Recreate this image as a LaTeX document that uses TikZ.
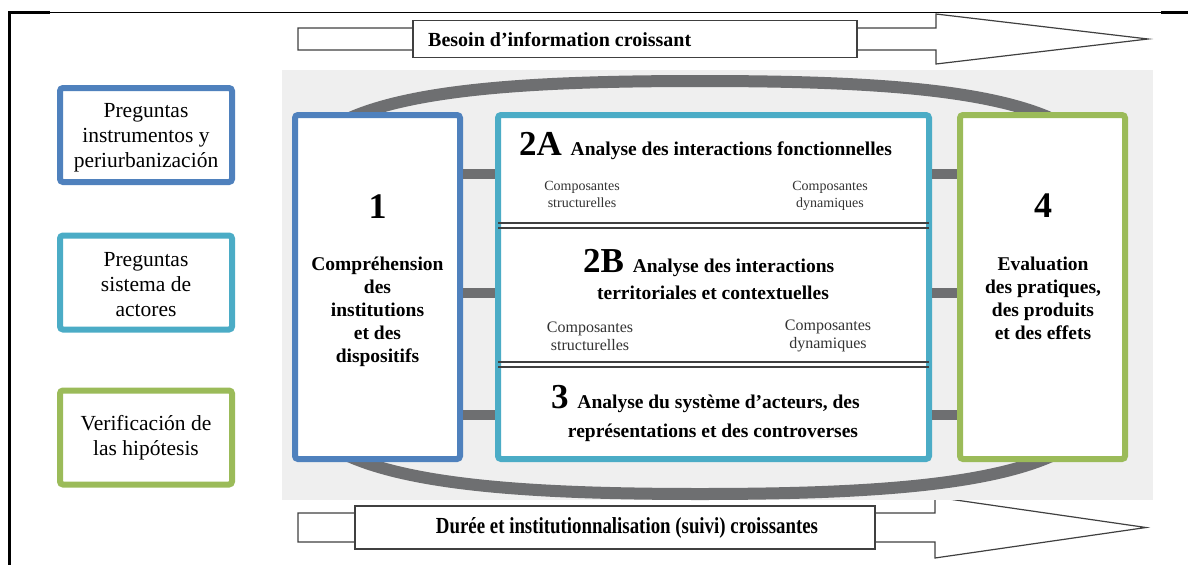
\documentclass[tikz,border=0pt]{standalone}
\usepackage{fontspec}
\setmainfont{Liberation Serif}
\definecolor{qblue}{HTML}{4F81BD}
\definecolor{qteal}{HTML}{4BACC6}
\definecolor{qgreen}{HTML}{9BBB59}
\definecolor{ringgray}{HTML}{6E6F71}
\definecolor{panelgray}{HTML}{EFEFEF}
\definecolor{txtgray}{HTML}{333333}
\newcommand{\fs}[1]{\fontsize{#1}{#1}\selectfont}
\tikzset{
  qbox/.style={draw=#1, line width=6pt, rounded corners=3pt, fill=white,
    minimum width=172pt, minimum height=94pt, inner sep=0pt, align=center,
    font=\fontsize{21.5}{25}\selectfont},
  bigbox/.style={draw=#1, line width=6pt, rounded corners=3pt, fill=white,
    minimum height=344pt, inner sep=0pt},
  bar/.style={ringgray, line width=10pt},
  ring/.style={ringgray, line width=12pt},
  arrowbody/.style={draw=black!75, line width=1.2pt, fill=white},
  btext/.style={font=\bfseries\fontsize{19.5}{23}\selectfont, align=center, inner sep=0pt},
  comp/.style={text=txtgray, align=center, inner sep=0pt},
  dline/.style={black!75, line width=1.3pt}
}
\begin{document}
\begin{tikzpicture}[x=1pt,y=-1pt]
\useasboundingbox (0,0) rectangle (1188,565);
% frame
\draw[line width=1.3pt] (8,12.5) -- (1188,12.5);
\draw[line width=3pt] (8,12.5) -- (50,12.5);
\draw[line width=3pt] (1161,12.5) -- (1188,12.5);
\draw[line width=3pt] (9.5,11) -- (9.5,565);

% top arrow
\draw[arrowbody] (298,28) -- (936,28) -- (936,14) -- (1148,39) -- (936,64) -- (936,50) -- (298,50) -- cycle;
\node[arrowbody, minimum width=444pt, minimum height=37pt, inner sep=0pt] (topa) at (635,39) {};
\node[anchor=west, inner sep=0pt, font=\bfseries\fontsize{20}{20}\selectfont] (topt) at (428,40) {Besoin d’information croissant};

% bottom arrow
\draw[arrowbody] (298,513) -- (935,513) -- (935,497) -- (1146,527.5) -- (935,558) -- (935,542) -- (298,542) -- cycle;
\node[arrowbody, minimum width=520pt, minimum height=43pt, inner sep=0pt] (bota) at (615,527.5) {};
\node[inner sep=0pt, font=\bfseries\fontsize{23}{23}\selectfont] (bott) at (627,528) {\scalebox{0.82}[1]{Durée et institutionnalisation (suivi) croissantes}};

% panel
\fill[panelgray] (282,70) rectangle (1153,500);

% ring
\draw[ring] (700,81) .. controls (900,81) and (1050,92) .. (1095,150) -- (1095,425)
  .. controls (1050,482) and (900,494) .. (700,494)
  .. controls (500,494) and (350,482) .. (305,425) -- (305,150)
  .. controls (350,92) and (500,81) .. (700,81) -- cycle;

% left question boxes
\node[qbox=qblue] (q1) at (146,135) {};
\node[align=center, font=\fontsize{21.5}{25}\selectfont, inner sep=0pt] (q1t) at (146,138) {Preguntas\\instrumentos y\\periurbanización};
\node[qbox=qteal] (q2) at (146,282.5) {};
\node[align=center, font=\fontsize{21.5}{25}\selectfont, inner sep=0pt] (q2t) at (146,284.5) {Preguntas\\sistema de\\actores};
\node[qbox=qgreen] (q3) at (146,437.5) {};
\node[align=center, font=\fontsize{21.5}{25}\selectfont, inner sep=0pt] (q3t) at (146,438) {Verificación de\\las hipótesis};

% main boxes
\node[bigbox=qblue, minimum width=165pt] (b1) at (377.5,287) {};
\node[bigbox=qteal, minimum width=431pt] (b2) at (713.5,287) {};
\node[bigbox=qgreen, minimum width=165pt] (b4) at (1042.5,287) {};

% bars
\foreach \yy/\nm in {174/a,293/b,415/c}{
  \coordinate (L\nm) at (0,\yy);
  \draw[bar] (b1.east |- L\nm) -- (b2.west |- L\nm);
  \draw[bar] (b2.east |- L\nm) -- (b4.west |- L\nm);
}

% double lines
\draw[dline] ([xshift=3pt]b2.west |- 0,223) -- ([xshift=-3pt]b2.east |- 0,223);
\draw[dline] ([xshift=3pt]b2.west |- 0,228) -- ([xshift=-3pt]b2.east |- 0,228);
\draw[dline] ([xshift=3pt]b2.west |- 0,362) -- ([xshift=-3pt]b2.east |- 0,362);
\draw[dline] ([xshift=3pt]b2.west |- 0,367) -- ([xshift=-3pt]b2.east |- 0,367);

% box 1 text
\node[btext, anchor=base] (n1) at (377.5,218) {\fs{36}1};
\node[btext, anchor=base] (t1) at (377.5,362) {Compréhension\\des\\institutions\\et des\\dispositifs};

% box 4 text
\node[btext, anchor=base] (n4) at (1043,217) {\fs{36}4};
\node[btext, anchor=base] (t4) at (1043,339) {Evaluation\\des pratiques,\\des produits\\et des effets};

% 2A
\node[btext, anchor=base west] (t2a) at (519,155) {\fs{35}2A\ \fs{19.5}Analyse des interactions fonctionnelles};
\node[comp, anchor=base, font=\fontsize{14}{17}\selectfont] (c2as) at (582,207) {Composantes\\structurelles};
\node[comp, anchor=base, font=\fontsize{14}{17}\selectfont] (c2ad) at (830,207) {Composantes\\dynamiques};

% 2B
\node[btext, anchor=base west] (t2b) at (583,272) {\fs{35}2B\ \fs{19.5}Analyse des interactions};
\node[btext, anchor=base] (t2b2) at (713,299) {territoriales et contextuelles};
\node[comp, anchor=base, font=\fontsize{16}{18}\selectfont] (c2bs) at (590,350) {Composantes\\structurelles};
\node[comp, anchor=base, font=\fontsize{16}{18}\selectfont] (c2bd) at (828,348) {Composantes\\dynamiques};

% 3
\node[btext, anchor=base west] (t3) at (551,408) {\fs{35}3\ \fs{19.5}Analyse du système d’acteurs, des};
\node[btext, anchor=base] (t32) at (713,437) {représentations et des controverses};
\end{tikzpicture}
\end{document}
